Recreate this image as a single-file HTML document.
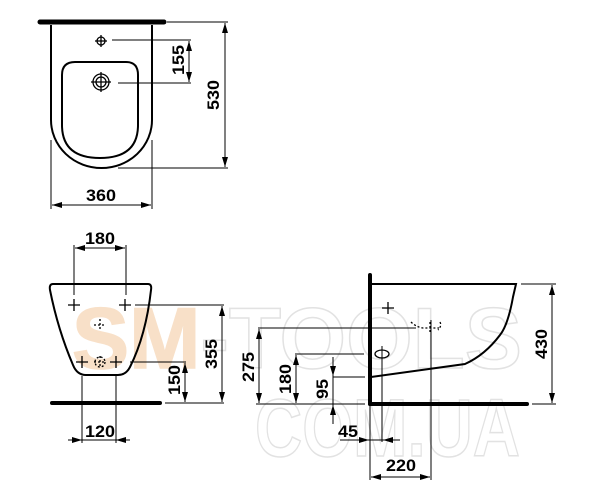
<!DOCTYPE html>
<html><head><meta charset="utf-8"><style>html,body{margin:0;padding:0;background:#fff}svg{display:block}</style></head><body>
<svg width="600" height="500" viewBox="0 0 600 500" xmlns="http://www.w3.org/2000/svg">
<defs>
<marker id="a" viewBox="0 0 10 6" refX="10" refY="3" markerWidth="10" markerHeight="6" orient="auto-start-reverse" markerUnits="userSpaceOnUse"><path d="M0,0L10,3L0,6z" fill="#000"/></marker>
</defs>
<g font-family="Liberation Sans, sans-serif" font-weight="bold" stroke="#e2e2e2" stroke-width="1.5">
<text x="72" y="368" font-size="86" fill="#fff" textLength="450" lengthAdjust="spacingAndGlyphs"><tspan fill="#f8e0c8" stroke="#f8e0c8">SM</tspan>-TOOLS</text>
<text x="255" y="456" font-size="82" fill="#fff" textLength="265" lengthAdjust="spacingAndGlyphs">COM.UA</text>
</g>
<g fill="none" stroke="#000" stroke-width="1.3">
<line x1="40" y1="22" x2="164" y2="22" stroke-width="5" stroke-linecap="round"/>
<path d="M51,25 V120 A50.5,48 0 0 0 152,120 V25" stroke-width="2"/>
<path d="M62,75 Q62,62 75,62 H126 Q138,62 138,75 V125 Q138,158 100,158 Q62,158 62,125 Z" stroke-width="2"/>
<circle cx="101" cy="41" r="4"/><line x1="95" y1="41" x2="107" y2="41"/><line x1="101" y1="35" x2="101" y2="47"/>
<circle cx="101" cy="82" r="8"/><circle cx="101" cy="82" r="5"/><line x1="91" y1="82" x2="111" y2="82"/><line x1="101" y1="72" x2="101" y2="92"/>
<line x1="112" y1="40" x2="191" y2="40" stroke-width="1"/><line x1="118" y1="83" x2="191" y2="83" stroke-width="1"/>
<line x1="189" y1="41" x2="189" y2="82" marker-start="url(#a)" marker-end="url(#a)" stroke-width="1"/>
<line x1="167" y1="22" x2="228" y2="22" stroke-width="1"/><line x1="118" y1="168" x2="228" y2="168" stroke-width="1"/>
<line x1="225" y1="23" x2="225" y2="167" marker-start="url(#a)" marker-end="url(#a)" stroke-width="1"/>
<line x1="51" y1="140" x2="51" y2="209" stroke-width="1"/><line x1="152" y1="140" x2="152" y2="209" stroke-width="1"/>
<line x1="52" y1="205" x2="151" y2="205" marker-start="url(#a)" marker-end="url(#a)" stroke-width="1"/>
<line x1="75" y1="248" x2="125" y2="248" marker-start="url(#a)" marker-end="url(#a)" stroke-width="1"/>
<line x1="74" y1="245" x2="74" y2="295" stroke-width="1"/><line x1="126" y1="245" x2="126" y2="295" stroke-width="1"/>
<path d="M53,284 H148 Q152,284 151,290 Q146,335 130,367 Q126,375 118,375 H86 Q77,375 73,365 Q58,330 50,290 Q49,284 53,284Z" stroke-width="2"/>
<g stroke-width="1.3">
<path d="M68,305h12M74,299v12M119,305h12M125,299v12M76,362h12M82,356v12M110,362h12M116,356v12"/>
<path d="M94,362h12M100,356v12M94,325h12M100,319v12" stroke-dasharray="2,2"/>
<circle cx="100" cy="362" r="5" stroke-dasharray="2,2"/>
</g>
<line x1="52" y1="403" x2="160" y2="403" stroke-width="4" stroke-linecap="round"/>
<line x1="82" y1="376" x2="82" y2="443" stroke-width="1"/><line x1="116" y1="376" x2="116" y2="443" stroke-width="1"/>
<line x1="68" y1="440" x2="82" y2="440" marker-end="url(#a)" stroke-width="1"/><line x1="130" y1="440" x2="116" y2="440" marker-end="url(#a)" stroke-width="1"/>
<line x1="82" y1="440" x2="116" y2="440" stroke-width="1"/>
<line x1="135" y1="305" x2="224" y2="305" stroke-width="1"/><line x1="165" y1="403" x2="224" y2="403" stroke-width="1"/>
<line x1="222" y1="306" x2="222" y2="402" marker-start="url(#a)" marker-end="url(#a)" stroke-width="1"/>
<line x1="130" y1="362" x2="186" y2="362" stroke-width="1"/>
<line x1="185" y1="363" x2="185" y2="402" marker-start="url(#a)" marker-end="url(#a)" stroke-width="1"/>
<line x1="370" y1="275" x2="370" y2="404" stroke-width="4" stroke-linecap="round"/>
<line x1="370" y1="404" x2="527" y2="404" stroke-width="4" stroke-linecap="round"/>
<path d="M371,284 H516 L513,297 Q508,325 500,335 Q485,355 465,364 L371,377" stroke-width="2"/>
<path d="M382,308h12M388,302v12"/>
<path d="M411,322q5,5 12,6h16M430,322v12M440,322q2,4 -2,8" stroke-dasharray="2,2"/>
<ellipse cx="382" cy="354" rx="7" ry="4"/><line x1="382" y1="346" x2="382" y2="442" stroke-width="1"/>
<line x1="431" y1="320" x2="431" y2="480" stroke-width="1"/><line x1="370" y1="404" x2="370" y2="480" stroke-width="1"/>
<line x1="258" y1="328" x2="416" y2="328" stroke-width="1"/>
<line x1="259" y1="329" x2="259" y2="403" marker-start="url(#a)" marker-end="url(#a)" stroke-width="1"/>
<line x1="256" y1="404" x2="365" y2="404" stroke-width="1"/>
<line x1="295" y1="354" x2="364" y2="354" stroke-width="1"/>
<line x1="296" y1="355" x2="296" y2="403" marker-start="url(#a)" marker-end="url(#a)" stroke-width="1"/>
<line x1="333" y1="377" x2="365" y2="377" stroke-width="1"/>
<line x1="333" y1="357" x2="333" y2="376" marker-end="url(#a)" stroke-width="1"/>
<line x1="333" y1="424" x2="333" y2="405" marker-end="url(#a)" stroke-width="1"/>
<line x1="333" y1="376" x2="333" y2="405" stroke-width="1"/>
<line x1="340" y1="440" x2="369" y2="440" marker-end="url(#a)" stroke-width="1"/>
<line x1="400" y1="440" x2="383" y2="440" marker-end="url(#a)" stroke-width="1"/>
<line x1="369" y1="440" x2="383" y2="440" stroke-width="1"/>
<line x1="371" y1="477" x2="430" y2="477" marker-start="url(#a)" marker-end="url(#a)" stroke-width="1"/>
<line x1="521" y1="284" x2="556" y2="284" stroke-width="1"/><line x1="532" y1="404" x2="556" y2="404" stroke-width="1"/>
<line x1="552" y1="285" x2="552" y2="403" marker-start="url(#a)" marker-end="url(#a)" stroke-width="1"/>
</g>
<g font-family="Liberation Sans, sans-serif" font-weight="bold" font-size="17" fill="#000" text-anchor="middle">
<text x="101" y="201" textLength="30" lengthAdjust="spacingAndGlyphs">360</text>
<text transform="translate(184,60) rotate(-90)" textLength="30" lengthAdjust="spacingAndGlyphs">155</text>
<text transform="translate(219,95) rotate(-90)" textLength="30" lengthAdjust="spacingAndGlyphs">530</text>
<text x="100" y="244" textLength="30" lengthAdjust="spacingAndGlyphs">180</text>
<text x="100" y="437" textLength="30" lengthAdjust="spacingAndGlyphs">120</text>
<text transform="translate(217,354) rotate(-90)" textLength="30" lengthAdjust="spacingAndGlyphs">355</text>
<text transform="translate(180,380) rotate(-90)" textLength="30" lengthAdjust="spacingAndGlyphs">150</text>
<text transform="translate(254,367) rotate(-90)" textLength="30" lengthAdjust="spacingAndGlyphs">275</text>
<text transform="translate(291,379) rotate(-90)" textLength="30" lengthAdjust="spacingAndGlyphs">180</text>
<text transform="translate(328,389) rotate(-90)" textLength="20" lengthAdjust="spacingAndGlyphs">95</text>
<text x="348" y="437" textLength="20" lengthAdjust="spacingAndGlyphs">45</text>
<text x="401" y="471" textLength="30" lengthAdjust="spacingAndGlyphs">220</text>
<text transform="translate(547,344) rotate(-90)" textLength="30" lengthAdjust="spacingAndGlyphs">430</text>
</g>
</svg>
</body></html>
